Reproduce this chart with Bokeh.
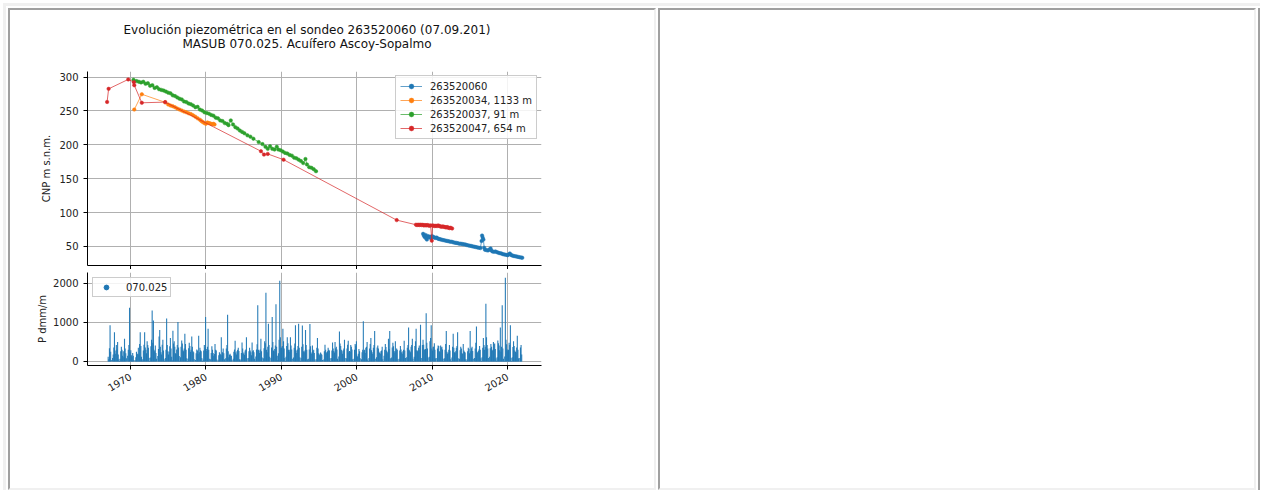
import math
from bokeh.plotting import figure
from bokeh.models import (Range1d, FixedTicker, Legend, LegendItem, Label, Div,
                          ColumnDataSource)
from bokeh.layouts import row, column
from bokeh.embed import file_html
from bokeh.resources import INLINE

# ---------------- data ----------------
title_line1 = "Evolución piezométrica en el sondeo 263520060 (07.09.201)"
title_line2 = "MASUB 070.025. Acuífero Ascoy-Sopalmo"
ylabel_top = "CNP m s.n.m."
ylabel_bot = "P dmm/m"
year_ticks = [1970, 1980, 1990, 2000, 2010, 2020]
cnp_ticks = [50, 100, 150, 200, 250, 300]
p_ticks = [0, 1000, 2000]

s060_name = "263520060"
s060_t = [2008.80, 2008.90, 2009.00, 2009.10, 2009.20, 2009.30, 2009.40, 2009.55, 2009.70,
          2009.85, 2010.00, 2010.15, 2010.30, 2010.45, 2010.60, 2010.75, 2010.90, 2011.05,
          2011.20, 2011.40, 2011.60, 2011.80, 2012.00, 2012.20, 2012.40, 2012.60, 2012.80,
          2013.00, 2013.20, 2013.40, 2013.60, 2013.80, 2014.00, 2014.20, 2014.40, 2014.60,
          2014.80, 2015.00, 2015.20, 2015.40, 2015.60, 2015.80, 2016.00, 2016.20, 2016.40,
          2016.55, 2016.62, 2016.70, 2016.80, 2016.90, 2017.00, 2017.20, 2017.40, 2017.60,
          2017.75, 2017.85, 2018.00, 2018.20, 2018.40, 2018.60, 2018.80, 2019.00, 2019.20,
          2019.40, 2019.60, 2019.80, 2020.00, 2020.15, 2020.30, 2020.45, 2020.60, 2020.80,
          2021.00, 2021.20, 2021.40, 2021.60, 2021.80, 2021.95]
s060_v = [68.5, 66.0, 64.0, 67.0, 62.0, 60.0, 65.5, 63.5, 64.5,
          62.0, 65.0, 64.0, 63.0, 62.5, 63.0, 61.5, 61.0, 60.5,
          60.0, 59.5, 59.0, 58.5, 58.0, 57.5, 57.0, 56.8, 56.0,
          55.5, 55.2, 54.8, 54.0, 54.0, 53.5, 53.0, 52.8, 52.0,
          51.5, 51.0, 50.5, 50.0, 49.5, 49.0, 48.5, 48.0, 47.5,
          58.0, 66.0, 63.0, 60.0, 48.0, 45.0, 44.5, 44.0, 45.5,
          47.0, 44.0, 42.5, 42.0, 42.5, 41.5, 40.5, 40.0, 39.5,
          38.5, 38.0, 37.5, 37.0, 38.0, 39.5, 37.5, 36.5, 36.0,
          35.5, 35.0, 34.5, 34.0, 33.5, 33.2]

s034_name = "263520034, 1133 m"
s034_t = [1970.5, 1971.5, 1974.6, 1975.0, 1975.3, 1975.6, 1975.9, 1976.2, 1976.5, 1976.8,
          1977.1, 1977.4, 1977.7, 1978.0, 1978.3, 1978.6, 1978.9, 1979.2, 1979.4, 1979.6,
          1979.8, 1980.0, 1980.2, 1980.4, 1980.6, 1980.8, 1981.0, 1981.15]
s034_v = [252.0, 274.6, 262.7, 259.5, 258.0, 257.0, 255.5, 253.5, 252.0, 250.5,
          249.0, 248.0, 246.5, 245.5, 243.5, 241.5, 239.0, 237.0, 235.0, 233.5,
          232.0, 231.0, 233.0, 232.0, 231.5, 230.5, 231.0, 230.0]

s037_name = "263520037, 91 m"
s037_t = [1970.4, 1970.8, 1971.1, 1971.4, 1971.7, 1972.0, 1972.3, 1972.6, 1972.9, 1973.2,
          1973.5, 1973.8, 1974.1, 1974.4, 1974.7, 1975.0, 1975.3, 1975.6, 1975.9, 1976.2,
          1976.5, 1976.8, 1977.1, 1977.4, 1977.7, 1978.0, 1978.3, 1978.6, 1978.9, 1979.2,
          1979.5, 1979.8, 1980.1, 1980.4, 1980.7, 1981.0, 1981.3, 1981.6, 1981.9, 1982.2,
          1982.5, 1982.8, 1983.0, 1983.3, 1983.6, 1983.9, 1984.2, 1984.5, 1984.8, 1985.1,
          1985.5, 1985.9, 1986.3, 1987.0, 1987.5, 1987.9, 1988.2, 1988.5, 1988.8, 1989.1,
          1989.4, 1989.6, 1989.9, 1990.2, 1990.5, 1990.8, 1991.1, 1991.4, 1991.7, 1992.0,
          1992.3, 1992.6, 1992.9, 1993.2, 1993.4, 1993.7, 1994.0, 1994.3, 1994.6]
s037_v = [296, 294, 293, 292, 293, 290, 291, 287, 288, 284,
          285, 282, 281, 280, 278.5, 277, 276, 273, 272, 270,
          268, 267, 264, 263, 261, 260, 258, 255.5, 256, 252,
          250.5, 248, 247, 246, 244, 243, 240, 239, 236, 235,
          232, 231, 229, 236, 230, 226, 224, 221, 219, 217,
          214, 212, 209, 204, 201, 197, 194, 198, 194, 193,
          197, 193, 192, 190, 188, 187, 185, 184, 181, 180,
          178, 176, 173, 179, 171, 167, 166, 164, 161]

s047_name = "263520047, 654 m"
s047_t = [1966.9, 1967.1, 1969.7, 1970.45, 1970.5, 1971.5, 1974.6, 1987.3, 1987.7, 1988.2,
          1990.3, 2005.3, 2007.85, 2008.0, 2008.15, 2008.3, 2008.45, 2008.6, 2008.75, 2008.9,
          2009.05, 2009.2, 2009.35, 2009.5, 2009.65, 2009.8, 2009.95, 2010.05, 2010.2, 2010.35,
          2010.5, 2010.65, 2010.8, 2010.95, 2011.1, 2011.25, 2011.4, 2011.55, 2011.7, 2011.85,
          2012.0, 2012.15, 2012.3, 2012.45, 2012.65]
s047_v = [263.2, 282.6, 296.5, 292.5, 288.0, 262.0, 263.0, 190.5, 185.5, 186.5,
          178.0, 88.8, 82.0, 81.5, 82.0, 81.5, 82.0, 81.5, 81.8, 81.0,
          81.5, 81.0, 81.5, 81.0, 80.5, 81.0, 58.5, 81.0, 80.5, 80.0,
          80.5, 80.0, 81.0, 80.0, 79.5, 79.0, 79.5, 79.0, 78.5, 78.0,
          78.5, 77.5, 77.0, 77.5, 76.5]

precip_name = "070.025"
precip_first_year = 1967
# monthly precipitation (dmm), one row per year Jan..Dec
precip_monthly = [
    [120, 60, 340, 930, 250, 40, 0, 90, 180, 360, 750, 280],     # 1967
    [200, 420, 310, 500, 180, 60, 10, 70, 260, 380, 300, 150],   # 1968
    [260, 110, 580, 330, 210, 80, 0, 150, 300, 420, 1380, 240],  # 1969
    [290, 160, 120, 220, 150, 40, 0, 30, 110, 250, 180, 200],    # 1970
    [350, 180, 450, 750, 400, 120, 20, 60, 280, 430, 750, 360],  # 1971
    [300, 210, 520, 420, 350, 90, 10, 100, 390, 560, 1310, 480], # 1972
    [1050, 300, 260, 410, 220, 70, 0, 140, 320, 640, 810, 380],  # 1973
    [240, 180, 430, 560, 280, 60, 10, 90, 300, 1100, 420, 260],  # 1974
    [180, 250, 390, 600, 330, 120, 30, 790, 460, 520, 380, 210], # 1975
    [200, 310, 420, 1010, 360, 140, 20, 110, 380, 540, 460, 290],# 1976
    [260, 330, 710, 450, 300, 80, 10, 70, 340, 480, 400, 250],   # 1977
    [300, 640, 380, 260, 240, 60, 0, 40, 210, 310, 280, 190],    # 1978
    [660, 240, 350, 290, 260, 90, 10, 50, 280, 420, 360, 1140],  # 1979
    [320, 270, 380, 840, 300, 70, 0, 60, 220, 390, 300, 220],    # 1980
    [150, 190, 450, 300, 280, 50, 0, 30, 160, 240, 200, 180],    # 1981
    [620, 160, 240, 330, 210, 60, 10, 80, 330, 420, 1200, 260],  # 1982
    [110, 170, 200, 160, 140, 40, 0, 70, 250, 310, 530, 230],    # 1983
    [180, 260, 300, 350, 270, 60, 10, 50, 220, 490, 330, 200],   # 1984
    [230, 170, 280, 310, 620, 80, 0, 90, 260, 350, 280, 240],    # 1985
    [160, 490, 260, 290, 240, 70, 20, 130, 310, 440, 1440, 300], # 1986
    [280, 220, 310, 580, 260, 100, 10, 80, 340, 520, 470, 1760], # 1987
    [300, 240, 380, 970, 420, 120, 0, 90, 360, 1140, 500, 280],  # 1988
    [260, 320, 410, 1470, 380, 150, 40, 210, 560, 2070, 620, 340],  # 1989
    [360, 400, 840, 520, 330, 90, 10, 120, 400, 620, 470, 300],  # 1990
    [250, 300, 620, 410, 310, 70, 0, 100, 350, 460, 930, 280],   # 1991
    [220, 310, 400, 970, 350, 110, 20, 90, 380, 920, 440, 260],  # 1992
    [240, 280, 810, 420, 300, 60, 10, 70, 310, 960, 390, 230],   # 1993
    [190, 410, 260, 300, 220, 50, 0, 60, 350, 600, 330, 210],    # 1994
    [180, 150, 230, 200, 170, 40, 0, 50, 260, 430, 300, 240],    # 1995
    [210, 260, 350, 300, 280, 80, 10, 90, 280, 490, 330, 270],   # 1996
    [230, 500, 340, 380, 310, 70, 20, 130, 770, 460, 400, 300],  # 1997
    [260, 200, 290, 330, 560, 90, 0, 80, 330, 430, 530, 240],    # 1998
    [270, 250, 420, 380, 310, 60, 10, 70, 300, 450, 410, 520],   # 1999
    [150, 120, 200, 320, 260, 80, 0, 60, 240, 300, 1030, 260],   # 2000
    [300, 220, 350, 380, 500, 50, 10, 90, 330, 450, 600, 290],   # 2001
    [240, 190, 350, 420, 780, 70, 0, 110, 360, 410, 330, 250],   # 2002
    [220, 200, 260, 280, 380, 60, 10, 150, 300, 450, 370, 280],  # 2003
    [210, 250, 580, 320, 780, 80, 20, 100, 360, 480, 390, 270],  # 2004
    [230, 520, 260, 330, 300, 60, 0, 70, 280, 400, 310, 240],    # 2005
    [200, 260, 300, 530, 280, 90, 10, 110, 350, 420, 870, 300],  # 2006
    [270, 240, 380, 420, 580, 70, 10, 120, 400, 520, 840, 290],  # 2007
    [260, 280, 350, 410, 300, 940, 20, 90, 420, 560, 430, 310],  # 2008
    [300, 320, 1240, 480, 330, 100, 10, 120, 520, 600, 930, 330],  # 2009
    [280, 380, 380, 470, 300, 80, 0, 90, 330, 410, 400, 260],    # 2010
    [240, 410, 360, 380, 310, 70, 10, 80, 300, 450, 780, 250],   # 2011
    [200, 230, 300, 420, 280, 60, 10, 100, 380, 710, 350, 240],  # 2012
    [220, 260, 350, 400, 750, 80, 0, 70, 290, 380, 330, 220],    # 2013
    [190, 450, 280, 250, 230, 60, 10, 50, 260, 350, 320, 210],   # 2014
    [780, 260, 340, 380, 270, 70, 0, 90, 330, 480, 900, 240],    # 2015
    [230, 270, 310, 400, 300, 80, 10, 110, 350, 600, 420, 300],  # 2016
    [380, 1480, 620, 420, 330, 90, 10, 120, 340, 450, 380, 270], # 2017
    [300, 500, 440, 460, 320, 80, 20, 110, 540, 470, 410, 290],  # 2018
    [870, 250, 380, 1440, 330, 70, 10, 130, 2150, 560, 440, 310],  # 2019
    [260, 300, 480, 420, 930, 90, 10, 110, 370, 520, 400, 280],  # 2020
    [250, 230, 360, 660, 300, 80, 0, 90, 360, 420, 180, 0],      # 2021
]

# ---------------- styles ----------------
FONT = "DejaVu Sans"
C_BLUE, C_ORANGE, C_GREEN, C_RED = "#1f77b4", "#ff7f0e", "#2ca02c", "#d62728"
GRID = "#b0b0b0"
TXT = "#222222"

x_range = Range1d(1964.3, 2024.5)


def style_axes(p, xt, yt):
    p.outline_line_color = None
    for ax in (p.xaxis[0], p.yaxis[0]):
        ax.axis_line_color = "black"
        ax.axis_line_width = 1
        ax.major_tick_in = 0
        ax.major_tick_out = 4
        ax.minor_tick_in = 0
        ax.minor_tick_out = 0
        ax.major_tick_line_color = "black"
        ax.major_label_text_font = FONT
        ax.major_label_text_font_size = "10px"
        ax.major_label_text_color = TXT
        ax.axis_label_text_font = FONT
        ax.axis_label_text_font_size = "10px"
        ax.axis_label_text_font_style = "normal"
        ax.axis_label_text_color = TXT
    p.xaxis.ticker = FixedTicker(ticks=xt, minor_ticks=[])
    p.yaxis.ticker = FixedTicker(ticks=yt, minor_ticks=[])
    p.xgrid.ticker = FixedTicker(ticks=xt, minor_ticks=[])
    p.ygrid.ticker = FixedTicker(ticks=yt, minor_ticks=[])
    for g in (p.xgrid[0], p.ygrid[0]):
        g.grid_line_color = GRID
        g.grid_line_width = 1
        g.grid_line_alpha = 1.0


# ---------------- title strip (figure-level suptitle) ----------------
# (its frame is aligned with the plots below, so x is measured from the axes' left edge)
TITLE_H = 58
p0 = figure(width=644, height=TITLE_H, x_axis_type=None, y_axis_type=None,
            output_backend="svg", toolbar_location=None, min_border=0)
p0.outline_line_color = None
p0.grid.visible = False
for txt, dy in [(title_line1, TITLE_H - 19), (title_line2, TITLE_H - 33)]:
    p0.add_layout(Label(x=219.5, y=dy, x_units="screen", y_units="screen",
                        text=txt, text_align="center", text_baseline="middle",
                        text_font=FONT, text_font_size="12px", text_color="#111111"))

# ---------------- top figure ----------------
p1 = figure(width=644, height=259 - TITLE_H, x_range=x_range, y_range=Range1d(21.8, 308.2),
            output_backend="svg", toolbar_location=None,
            min_border_left=77, min_border_right=113, min_border_top=61 - TITLE_H,
            min_border_bottom=0)

style_axes(p1, year_ticks, cnp_ticks)
# shared x axis: tick marks only, labels are shown on the lower panel
p1.xaxis.major_label_text_font_size = "1px"
p1.xaxis.major_label_text_color = None
p1.xaxis.major_label_text_alpha = 0
p1.xaxis.major_label_standoff = 0
p1.yaxis.axis_label = ylabel_top
p1.yaxis.axis_label_standoff = 4

items = []
for name, t, v, col in [(s060_name, s060_t, s060_v, C_BLUE),
                        (s034_name, s034_t, s034_v, C_ORANGE),
                        (s037_name, s037_t, s037_v, C_GREEN),
                        (s047_name, s047_t, s047_v, C_RED)]:
    src = ColumnDataSource(dict(t=t, v=v))
    rl = p1.line("t", "v", source=src, line_color=col, line_width=1, line_alpha=0.7)
    rs = p1.scatter("t", "v", source=src, size=3.5, fill_color=col, line_color=col,
                    line_width=0.5, fill_alpha=1.0, line_alpha=1.0)
    items.append(LegendItem(label=name, renderers=[rl, rs]))

leg1 = Legend(items=items, location="top_right", margin=4, padding=4,
              spacing=2, glyph_width=22, glyph_height=12, label_height=12,
              label_standoff=8, label_text_font=FONT, label_text_font_size="10px",
              label_text_color=TXT, border_line_color="#cccccc",
              border_line_alpha=1.0, background_fill_alpha=0.85)
p1.add_layout(leg1)

# ---------------- bottom figure ----------------
p_t, p_v = [], []
for i, months in enumerate(precip_monthly):
    for m, val in enumerate(months):
        p_t.append(precip_first_year + i + (m + 0.5) / 12.0)
        p_v.append(val)
psrc = ColumnDataSource(dict(t=p_t, v=p_v, z=[0] * len(p_t)))

p2 = figure(width=644, height=219, x_range=x_range, y_range=Range1d(-103, 2282),
            output_backend="svg", toolbar_location=None,
            min_border_left=77, min_border_right=113, min_border_top=3,
            min_border_bottom=123)
style_axes(p2, year_ticks, p_ticks)
p2.xaxis.major_label_orientation = math.radians(30)
p2.xaxis.major_label_standoff = 6
p2.xaxis.major_label_overrides = {y: str(y) for y in year_ticks}
p2.yaxis.axis_label = ylabel_bot
p2.yaxis.axis_label_standoff = 2

rb = p2.segment(x0="t", y0="z", x1="t", y1="v", source=psrc, line_color=C_BLUE,
                line_width=1.1, line_alpha=0.95)
rdot = p2.scatter("t", "v", source=psrc, size=0, fill_color=C_BLUE, line_color=C_BLUE)
leg2 = Legend(items=[LegendItem(label=precip_name, renderers=[rdot])], location="top_left",
              margin=5, padding=3, glyph_width=20, glyph_height=12, label_height=12,
              label_standoff=10, label_text_font=FONT, label_text_font_size="10px",
              label_text_color=TXT, border_line_color="#cccccc",
              border_line_alpha=1.0, background_fill_alpha=0.85)
p2.add_layout(leg2)

panel_style = {"border-style": "solid", "border-width": "2px",
               "border-color": "#a0a0a0 #f0f0f0 #f0f0f0 #a0a0a0"}
left_panel = column(p0, p1, p2, spacing=0, styles=panel_style)
right_panel = Div(text="", width=598, height=482, margin=0, styles=panel_style)
edge_panel = Div(text="", width=2, height=482, margin=0,
                 styles={"border-left": "2px solid #a0a0a0", "border-top": "2px solid #a0a0a0"})
layout = row(left_panel, right_panel, edge_panel, spacing=2,
             styles={"margin": "3px 0 0 3px", "border-top": "3px solid #f0f0f0",
                     "border-left": "3px solid #f0f0f0", "padding": "2px 0 0 2px"})

open("out.html", "w").write(file_html(layout, INLINE))
